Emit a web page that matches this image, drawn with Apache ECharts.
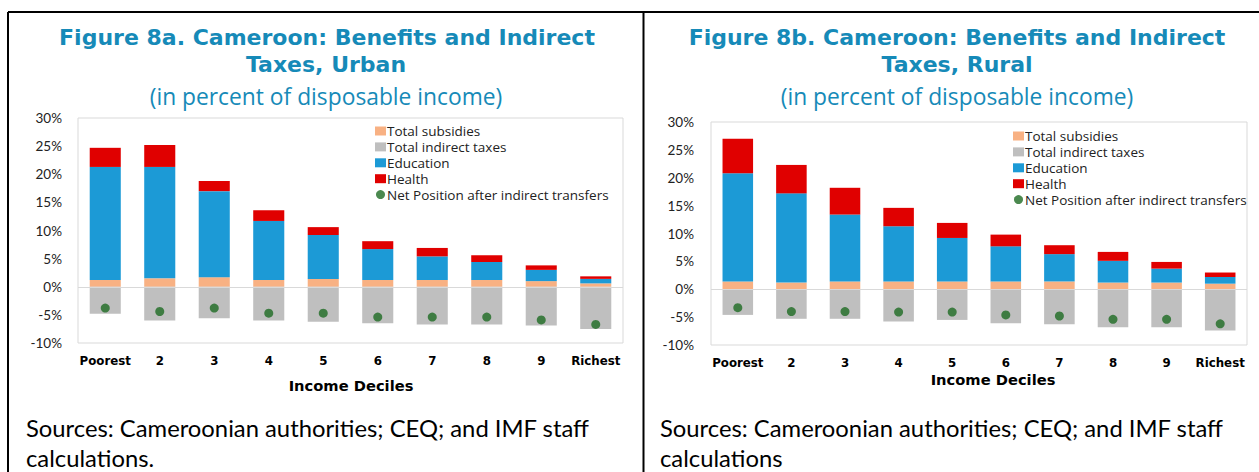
<!DOCTYPE html>
<html>
<head>
<meta charset="utf-8">
<script src="https://cdn.jsdelivr.net/npm/echarts@6/dist/echarts.min.js"></script>
<style>
html,body{margin:0;padding:0;background:#fff;}
#chart{width:1259px;height:472px;}
</style>
</head>
<body>
<div id="chart"></div>
<script>
// ---------- data ----------
const categories = ['Poorest', '2', '3', '4', '5', '6', '7', '8', '9', 'Richest'];
const seriesNames = ['Total subsidies', 'Total indirect taxes', 'Education', 'Health', 'Net Position after indirect transfers'];

// Urban (Figure 8a)
const urbanSubsidies = [1.2, 1.5, 1.7, 1.2, 1.4, 1.2, 1.2, 1.2, 1.0, 0.6];
const urbanTaxes     = [-4.8, -6.0, -5.6, -6.0, -6.2, -6.5, -6.7, -6.7, -6.9, -7.5];
const urbanEducation = [20.1, 19.8, 15.3, 10.5, 7.8, 5.5, 4.2, 3.2, 2.0, 0.8];
const urbanHealth    = [3.4, 3.9, 1.8, 1.9, 1.4, 1.4, 1.5, 1.2, 0.8, 0.45];
const urbanNet       = [-3.8, -4.4, -3.8, -4.7, -4.7, -5.4, -5.4, -5.4, -5.9, -6.7];

// Rural (Figure 8b)
const ruralSubsidies = [1.4, 1.2, 1.4, 1.4, 1.4, 1.4, 1.4, 1.2, 1.2, 1.0];
const ruralTaxes     = [-4.6, -5.3, -5.3, -5.8, -5.5, -6.1, -6.3, -6.8, -6.8, -7.4];
const ruralEducation = [19.4, 16.0, 12.0, 9.9, 7.8, 6.3, 4.9, 3.9, 2.5, 1.2];
const ruralHealth    = [6.2, 5.1, 4.8, 3.3, 2.7, 2.1, 1.6, 1.6, 1.2, 0.8];
const ruralNet       = [-3.3, -4.0, -4.0, -4.1, -4.1, -4.6, -4.8, -5.4, -5.4, -6.2];

const yTicks = [-10, -5, 0, 5, 10, 15, 20, 25, 30];

// ---------- styles ----------
const C = {
  subsidies: '#F8B183',
  taxes: '#BFBFBF',
  education: '#1C9AD6',
  health: '#E00000',
  net: '#1E6B23',
  title: '#168AB8',
  frame: '#D9D9D9'
};
const FONT = 'Lato, "Open Sans", "Noto Sans", sans-serif';
const WIDE = '"Open Sans", "Noto Sans", sans-serif';
const DJV = '"DejaVu Sans", "Open Sans", sans-serif';

function panelSeries(idx, subs, taxes, edu, health, net) {
  const common = {type: 'bar', stack: 'p' + idx, xAxisIndex: idx, yAxisIndex: idx, barWidth: '57%', emphasis: {disabled: true}};
  return [
    Object.assign({}, common, {name: seriesNames[0], data: subs, itemStyle: {color: C.subsidies},
      markLine: {silent: true, symbol: 'none', label: {show: false}, lineStyle: {color: C.frame, type: 'solid', width: 1}, data: [{yAxis: 0}]}}),
    Object.assign({}, common, {name: seriesNames[1], data: taxes, itemStyle: {color: C.taxes}}),
    Object.assign({}, common, {name: seriesNames[2], data: edu, itemStyle: {color: C.education}}),
    Object.assign({}, common, {name: seriesNames[3], data: health, itemStyle: {color: C.health}}),
    {type: 'scatter', name: seriesNames[4], xAxisIndex: idx, yAxisIndex: idx, data: net, symbolSize: 9,
     itemStyle: {color: C.net}, z: 5, emphasis: {disabled: true}}
  ];
}

function xAxisFor(idx, margin) {
  return {
    type: 'category', gridIndex: idx, data: categories, position: 'bottom',
    axisLine: {show: false}, axisTick: {show: false},
    axisLabel: {interval: 0, margin: margin, color: '#000', fontWeight: 'bold', fontSize: 11.8, fontFamily: DJV}
  };
}
function yAxisFor(idx, margin) {
  return {
    type: 'value', gridIndex: idx, min: yTicks[0], max: yTicks[yTicks.length - 1], interval: 5,
    axisLine: {show: false}, axisTick: {show: false}, splitLine: {show: false},
    axisLabel: {margin: margin, color: '#222', fontSize: 13.5, fontFamily: FONT, formatter: v => v + '%'}
  };
}
function legendFor(left, top) {
  return {
    left: left, top: top, orient: 'vertical', itemWidth: 11, itemHeight: 9, itemGap: 1.9,
    padding: 0, selectedMode: false,
    textStyle: {fontSize: 13.5, color: '#222', fontFamily: WIDE, padding: [0, 0, 0, -4]},
    data: [
      {name: seriesNames[0], icon: 'rect'},
      {name: seriesNames[1], icon: 'rect'},
      {name: seriesNames[2], icon: 'rect'},
      {name: seriesNames[3], icon: 'rect'},
      {name: seriesNames[4], icon: 'circle', itemStyle: {color: C.net}}
    ]
  };
}
function txt(text, x, y, size, opts) {
  return {type: 'text', x: x, y: y, silent: true,
    style: Object.assign({text: text, fontSize: size, fontFamily: FONT, fill: '#000', align: 'left', verticalAlign: 'middle'}, opts || {})};
}
const titleBold = {fontWeight: 'bold', fill: C.title, align: 'center', fontFamily: DJV};
const titleSub = {fill: C.title, align: 'center', fontFamily: WIDE};
const axisName = {fontWeight: 'bold', align: 'center', fontFamily: DJV};

const chart = echarts.init(document.getElementById('chart'), null, {renderer: 'svg'});
chart.setOption({
  animation: false,
  backgroundColor: '#fff',
  grid: [
    {left: 78, top: 118, width: 545, height: 225, show: true, borderColor: C.frame, borderWidth: 1, backgroundColor: 'transparent'},
    {left: 711, top: 122, width: 536, height: 223, show: true, borderColor: C.frame, borderWidth: 1, backgroundColor: 'transparent'}
  ],
  xAxis: [xAxisFor(0, 12), xAxisFor(1, 11.5)],
  yAxis: [yAxisFor(0, 16), yAxisFor(1, 17)],
  legend: [legendFor(375, 124), legendFor(1013, 129)],
  series: [].concat(
    panelSeries(0, urbanSubsidies, urbanTaxes, urbanEducation, urbanHealth, urbanNet),
    panelSeries(1, ruralSubsidies, ruralTaxes, ruralEducation, ruralHealth, ruralNet)
  ),
  graphic: [
    // frame lines
    {type: 'line', silent: true, shape: {x1: 8, y1: 12, x2: 1259, y2: 12}, style: {stroke: '#000', lineWidth: 2}},
    {type: 'line', silent: true, shape: {x1: 8, y1: 12, x2: 8, y2: 472}, style: {stroke: '#000', lineWidth: 2}},
    {type: 'line', silent: true, shape: {x1: 643.5, y1: 12, x2: 643.5, y2: 472}, style: {stroke: '#000', lineWidth: 2}},
    // titles
    txt('Figure 8a. Cameroon: Benefits and Indirect', 327, 37, 22, titleBold),
    txt('Taxes, Urban', 326, 64.5, 22, titleBold),
    txt('(in percent of disposable income)', 326, 96, 22.8, titleSub),
    txt('Figure 8b. Cameroon: Benefits and Indirect', 957, 37, 22, titleBold),
    txt('Taxes, Rural', 957, 64.5, 22, titleBold),
    txt('(in percent of disposable income)', 957, 96, 22.8, titleSub),
    // axis names
    txt('Income Deciles', 351, 385, 14.7, axisName),
    txt('Income Deciles', 993, 379.5, 14.7, axisName),
    // sources
    txt('Sources: Cameroonian authorities; CEQ; and IMF staff', 26, 428, 23.8),
    txt('calculations.', 26, 458, 23.8),
    txt('Sources: Cameroonian authorities; CEQ; and IMF staff', 660, 428, 23.8),
    txt('calculations', 660, 458, 23.8)
  ]
});
</script>
</body>
</html>
